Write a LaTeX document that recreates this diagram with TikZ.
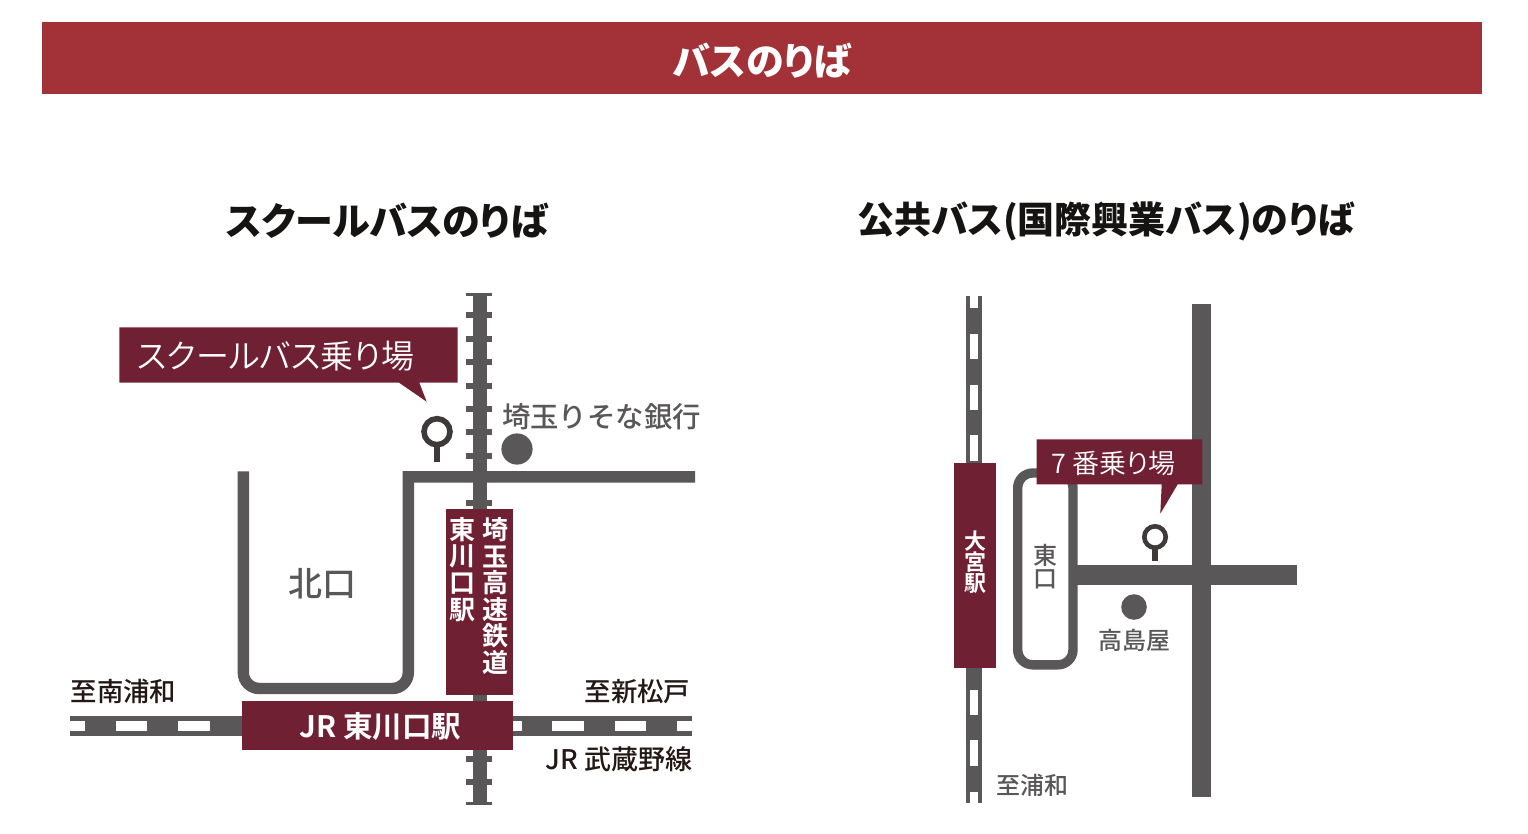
\documentclass[tikz,border=0pt]{standalone}
\usepackage{fontspec}
\newfontfamily\cjkm{Noto Sans CJK JP Medium}
\newfontfamily\cjkb{Noto Sans CJK JP Bold}
\newfontfamily\cjkp[RawFeature=+palt]{Noto Sans CJK JP}
\newfontfamily\cjkl[RawFeature=+palt]{Noto Sans CJK JP DemiLight}
\definecolor{barred}{HTML}{A23238}
\definecolor{wine}{HTML}{702033}
\definecolor{road}{HTML}{595757}
\definecolor{pin}{HTML}{3E3A39}
\definecolor{ink}{HTML}{231815}
\definecolor{head}{HTML}{161413}
\tikzset{
  lbl/.style={inner sep=0pt,outer sep=0pt,align=center},
  roadline/.style={draw=road,line join=miter},
  wfill/.style={fill=wine},
  gfill/.style={fill=road},
  wwfill/.style={fill=white},
  pinring/.style={draw=pin,fill=white},
}
\newcommand{\fz}[1]{\fontsize{#1}{#1}\selectfont}
\begin{document}
\begin{tikzpicture}[x=1pt,y=-1pt]
\useasboundingbox (0,0) rectangle (1528,834);
\fill[white] (0,0) rectangle (1528,834);
% title
\fill[fill=barred] (42,22) rectangle (1482,94);
\node[lbl,text=white,font=\cjkp\bfseries\fz{38}] (t0) at (762,60.5) {バスのりば};
\node[lbl,text=head,font=\cjkp\bfseries\fz{38}] (t1) at (387,220.5) {スクールバスのりば};
\node[lbl,text=head,font=\cjkp\bfseries\fz{37}] (t2) at (1106,221.5) {公共バス(国際興業バス)のりば};
% left map: vertical rail
\fill[gfill] (472.5,292.5) rectangle (486.5,805);
\fill[gfill] (466,292.5) rectangle (492.3,295.5);
\fill[gfill] (466,802.2) rectangle (492.3,805.2);
\foreach \yy in {315.3,338.7,362.1,385.5,408.9,432.3,455.7,502.5,759.2,782.2}
  \fill[gfill] (466,\yy-3) rectangle (492.3,\yy+3);
% left map: roads
\draw[roadline,line width=11.4pt] (243.3,471.3) [rounded corners=16pt] -- (243.3,688.5) -- (408.3,688.5) -- (408.3,520) [sharp corners] -- (408.3,476.8) -- (695,476.8);
% left map: JR line
\fill[gfill] (70,716) rectangle (692.3,736);
\foreach \xa/\xb in {70/85,116/147.3,178.3/209.7,512.7/521.7,552.3/583.7,615/646.3,677/692.3}
  \fill[wwfill] (\xa,721) rectangle (\xb,731);
% left map: stations
\fill[wfill] (445.7,509) rectangle (512.7,694.7);
\fill[wfill] (241.7,701.3) rectangle (512.7,750.3);
\node[lbl,text=white,font=\cjkb\fz{29.5}] (jr) at (380.5,726.2) {JR 東川口駅};
\node[lbl,text=white,font=\cjkb\fontsize{26}{26.7}\selectfont] (kw) at (462.5,569.5) {東\\川\\口\\駅};
\node[lbl,text=white,font=\cjkb\fontsize{26}{26.6}\selectfont] (sr) at (495.5,596) {埼\\玉\\高\\速\\鉄\\道};
% left map: callout
\fill[wfill] (119.3,327.3) -- (457.7,327.3) -- (457.7,382.7) -- (419.3,382.7) -- (426.7,401.7) -- (399,382.7) -- (119.3,382.7) -- cycle;
\node[lbl,text=white,font=\cjkl\fz{33}] (c1) at (275.5,356) {スクールバス乗り場};
% left map: pin
\fill[fill=pin] (434,440) rectangle (440,462);
\draw[pinring,line width=5.6pt] (437,431.7) circle[radius=13];
% left map: landmark
\fill[gfill] (517,449) circle[radius=15.6];
\node[lbl,text=road,font=\cjkm\fz{28.4}] (bank) at (601.5,416.4) {埼玉りそな銀行};
\node[lbl,text=road,font=\cjkm\fz{34}] (north) at (322,584.2) {北口};
\node[lbl,text=ink,font=\cjkm\fz{26.4}] (s1) at (123.5,691.4) {至南浦和};
\node[lbl,text=ink,font=\cjkm\fz{26.4}] (s2) at (637.5,691.4) {至新松戸};
\node[lbl,text=ink,font=\cjkm\fz{27}] (s3) at (619,759.4) {JR 武蔵野線};
% right map: rail
\fill[gfill] (965.7,296) rectangle (981.7,803.3);
\foreach \ya/\yb in {296/308.3,333.7/359,384.7/410,435.3/460.7,689.7/715.3,740.3/766,791.7/803.3}
  \fill[wwfill] (969.7,\ya) rectangle (977.7,\yb);
% right map: roads
\fill[gfill] (1191.7,304) rectangle (1211,797);
\fill[gfill] (1073,565.3) rectangle (1297.3,584.7);
\draw[roadline,line width=9.4pt,rounded corners=15pt] (1017.7,473) rectangle (1073,664.8);
% right map: station
\fill[wfill] (953.7,463.3) rectangle (996.3,668.3);
\node[lbl,text=white,font=\cjkb\fontsize{22}{20.7}\selectfont] (omiya) at (975,562) {大\\宮\\駅};
% right map: callout
\fill[wfill] (1036.7,439.3) -- (1202.3,439.3) -- (1202.3,484.3) -- (1177.7,484.3) -- (1160.3,513.7) -- (1161.7,484.3) -- (1036.7,484.3) -- cycle;
\node[lbl,text=white,font=\cjkl\fz{27}] (c2) at (1113.5,463) {7 番乗り場};
% right map: pin
\fill[fill=pin] (1152.3,545) rectangle (1158.3,561.3);
\draw[pinring,line width=4.6pt] (1155,537) circle[radius=10.7];
% right map: landmark
\fill[gfill] (1134,607) circle[radius=12.8];
\node[lbl,text=road,font=\cjkm\fz{24}] (taka) at (1134.5,640.4) {高島屋};
\node[lbl,text=road,font=\cjkm\fz{24}] (ura) at (1032.5,785.5) {至浦和};
\node[lbl,text=road,font=\cjkm\fontsize{24}{23}\selectfont] (east) at (1045.5,567) {東\\口};
\end{tikzpicture}
\end{document}
